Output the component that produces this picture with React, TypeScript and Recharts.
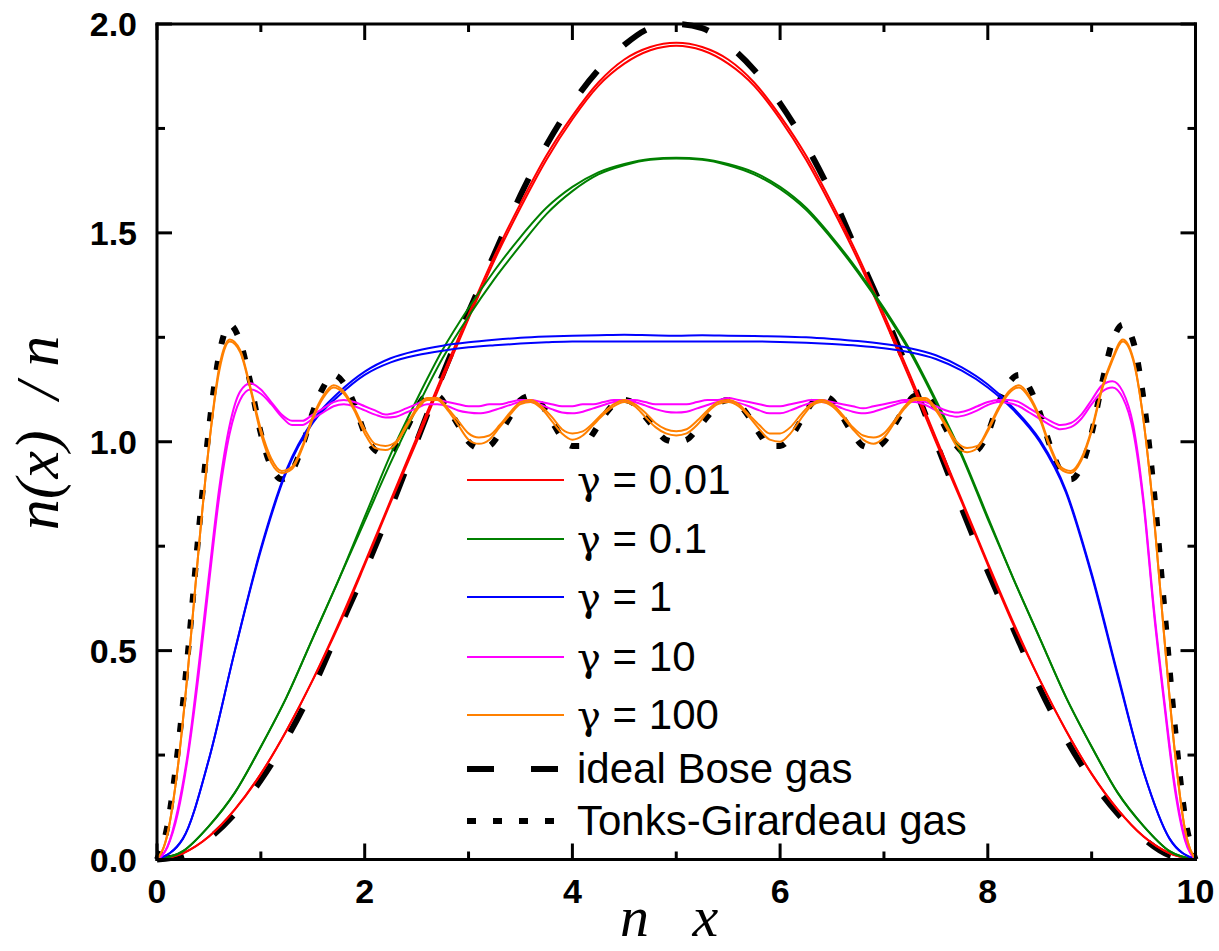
import { Legend, Line, LineChart, XAxis, YAxis } from 'recharts'

const W = 1219
const H = 951

// sample positions along n x
const xCoarse = [
  0, 0.25, 0.5, 0.75, 1, 1.25, 1.5, 1.75, 2, 2.25, 2.5, 2.75, 3, 3.25, 3.5, 3.75, 4, 4.25, 4.5, 4.75,
  5, 5.25, 5.5, 5.75, 6, 6.25, 6.5, 6.75, 7, 7.25, 7.5, 7.75, 8, 8.25, 8.5, 8.75, 9, 9.25, 9.5, 9.75, 10,
]
const xFine = [
  0, 0.1, 0.2, 0.3, 0.4, 0.5, 0.6, 0.7, 0.8, 0.9, 1, 1.1, 1.2, 1.3, 1.4, 1.5, 1.6, 1.7, 1.8, 1.9,
  2, 2.1, 2.2, 2.3, 2.4, 2.5, 2.6, 2.7, 2.8, 2.9, 3, 3.1, 3.2, 3.3, 3.4, 3.5, 3.6, 3.7, 3.8, 3.9,
  4, 4.1, 4.2, 4.3, 4.4, 4.5, 4.6, 4.7, 4.8, 4.9, 5, 5.1, 5.2, 5.3, 5.4, 5.5, 5.6, 5.7, 5.8, 5.9,
  6, 6.1, 6.2, 6.3, 6.4, 6.5, 6.6, 6.7, 6.8, 6.9, 7, 7.1, 7.2, 7.3, 7.4, 7.5, 7.6, 7.7, 7.8, 7.9,
  8, 8.1, 8.2, 8.3, 8.4, 8.5, 8.6, 8.7, 8.8, 8.9, 9, 9.1, 9.2, 9.3, 9.4, 9.5, 9.6, 9.7, 9.8, 9.9, 10,
]

// smooth profiles, read on the coarse grid
const idealBose = [
  0, 0.01, 0.05, 0.11, 0.19, 0.29, 0.41, 0.55, 0.69, 0.84, 1.0, 1.16, 1.31, 1.45, 1.59, 1.71, 1.81, 1.89, 1.95, 1.99,
  2.0, 1.99, 1.95, 1.89, 1.81, 1.71, 1.59, 1.45, 1.31, 1.16, 1.0, 0.84, 0.69, 0.55, 0.41, 0.29, 0.19, 0.11, 0.05, 0.01, 0,
]
const gamma001a = [
  0, 0.015, 0.055, 0.12, 0.205, 0.31, 0.43, 0.565, 0.71, 0.86, 1.01, 1.16, 1.305, 1.445, 1.57, 1.685, 1.78, 1.86, 1.915, 1.945,
  1.955, 1.945, 1.915, 1.86, 1.78, 1.685, 1.57, 1.445, 1.305, 1.16, 1.01, 0.86, 0.71, 0.565, 0.43, 0.31, 0.205, 0.12, 0.055, 0.015, 0,
]
const gamma001b = [
  0, 0.015, 0.055, 0.12, 0.205, 0.31, 0.43, 0.56, 0.705, 0.855, 1.0, 1.15, 1.295, 1.435, 1.56, 1.675, 1.772, 1.852, 1.905, 1.937,
  1.948, 1.937, 1.905, 1.852, 1.772, 1.675, 1.56, 1.435, 1.295, 1.15, 1.0, 0.855, 0.705, 0.56, 0.43, 0.31, 0.205, 0.12, 0.055, 0.015, 0,
]
const gamma01a = [
  0, 0.02, 0.08, 0.16, 0.27, 0.39, 0.53, 0.67, 0.82, 0.97, 1.1, 1.22, 1.32, 1.41, 1.49, 1.56, 1.61, 1.645, 1.665, 1.677,
  1.68, 1.677, 1.665, 1.645, 1.61, 1.56, 1.49, 1.41, 1.32, 1.22, 1.1, 0.97, 0.82, 0.67, 0.53, 0.39, 0.27, 0.16, 0.08, 0.02, 0,
]
const gamma01b = [
  0, 0.02, 0.08, 0.16, 0.27, 0.39, 0.53, 0.67, 0.81, 0.95, 1.08, 1.2, 1.3, 1.39, 1.47, 1.545, 1.6, 1.64, 1.662, 1.675,
  1.678, 1.675, 1.662, 1.64, 1.605, 1.555, 1.485, 1.405, 1.315, 1.215, 1.095, 0.965, 0.815, 0.67, 0.53, 0.39, 0.27, 0.16, 0.08, 0.02, 0,
]
const gamma1a = [
  0, 0.05, 0.24, 0.5, 0.74, 0.93, 1.045, 1.11, 1.16, 1.19, 1.207, 1.218, 1.226, 1.231, 1.235, 1.238, 1.24, 1.24, 1.24, 1.24,
  1.24, 1.24, 1.24, 1.24, 1.239, 1.237, 1.234, 1.23, 1.224, 1.214, 1.198, 1.17, 1.13, 1.075, 1.0, 0.88, 0.68, 0.44, 0.21, 0.05, 0,
]
const gamma1b = [
  0, 0.05, 0.24, 0.5, 0.745, 0.935, 1.05, 1.118, 1.168, 1.2, 1.218, 1.23, 1.238, 1.244, 1.249, 1.252, 1.254, 1.255, 1.256, 1.255,
  1.254, 1.255, 1.254, 1.253, 1.252, 1.25, 1.246, 1.241, 1.234, 1.224, 1.207, 1.178, 1.137, 1.08, 1.005, 0.885, 0.685, 0.445, 0.21, 0.05, 0,
]

// oscillating profiles, read on the fine grid
const gamma10a = [
  0, 0.03, 0.12, 0.26, 0.46, 0.68, 0.89, 1.04, 1.12, 1.14, 1.125, 1.095, 1.065, 1.05, 1.05, 1.065, 1.08, 1.095, 1.1, 1.095,
  1.085, 1.075, 1.065, 1.07, 1.08, 1.09, 1.1, 1.1, 1.095, 1.09, 1.085, 1.085, 1.09, 1.09, 1.095, 1.1, 1.1, 1.095, 1.09, 1.085,
  1.085, 1.09, 1.09, 1.095, 1.1, 1.1, 1.1, 1.095, 1.09, 1.09, 1.09,
  1.09, 1.095, 1.1, 1.1, 1.105, 1.1, 1.095, 1.09, 1.085, 1.085, 1.09, 1.095, 1.1, 1.1, 1.095, 1.09, 1.085, 1.08, 1.085, 1.09,
  1.095, 1.1, 1.1, 1.095, 1.085, 1.075, 1.07, 1.075, 1.085, 1.095, 1.1, 1.1, 1.095, 1.08, 1.065, 1.05, 1.04, 1.045, 1.065, 1.1,
  1.135, 1.145, 1.12, 1.04, 0.86, 0.6, 0.38, 0.18, 0.05, 0,
]
const gamma10b = [
  0, 0.03, 0.11, 0.25, 0.44, 0.66, 0.87, 1.02, 1.1, 1.125, 1.115, 1.09, 1.06, 1.04, 1.04, 1.055, 1.07, 1.085, 1.09, 1.085,
  1.075, 1.065, 1.058, 1.06, 1.07, 1.08, 1.09, 1.09, 1.085, 1.075, 1.07, 1.068, 1.072, 1.08, 1.088, 1.095, 1.095, 1.088, 1.078, 1.07,
  1.068, 1.072, 1.08, 1.088, 1.095, 1.098, 1.095, 1.087, 1.078, 1.072, 1.07,
  1.072, 1.08, 1.088, 1.095, 1.098, 1.093, 1.085, 1.075, 1.068, 1.068, 1.075, 1.085, 1.093, 1.095, 1.09, 1.08, 1.072, 1.068, 1.072, 1.08,
  1.088, 1.095, 1.095, 1.088, 1.075, 1.065, 1.06, 1.065, 1.075, 1.088, 1.095, 1.093, 1.085, 1.07, 1.055, 1.04, 1.03, 1.035, 1.055, 1.09,
  1.12, 1.13, 1.105, 1.025, 0.85, 0.59, 0.37, 0.17, 0.045, 0,
]
const gamma100a = [
  0, 0.06, 0.22, 0.46, 0.74, 0.99, 1.18, 1.245, 1.22, 1.13, 1.03, 0.96, 0.93, 0.94, 0.99, 1.06, 1.11, 1.135, 1.12, 1.08,
  1.03, 0.995, 0.99, 1.0, 1.04, 1.08, 1.105, 1.105, 1.08, 1.05, 1.02, 1.01, 1.015, 1.04, 1.07, 1.095, 1.1, 1.085, 1.06, 1.03,
  1.02, 1.025, 1.045, 1.07, 1.09, 1.1, 1.09, 1.07, 1.045, 1.03, 1.025,
  1.03, 1.05, 1.075, 1.095, 1.1, 1.09, 1.065, 1.04, 1.02, 1.02, 1.035, 1.065, 1.09, 1.1, 1.09, 1.065, 1.035, 1.015, 1.01, 1.02,
  1.05, 1.085, 1.105, 1.105, 1.08, 1.04, 1.0, 0.985, 0.99, 1.03, 1.08, 1.12, 1.135, 1.11, 1.06, 0.99, 0.94, 0.93, 0.96, 1.03,
  1.13, 1.2, 1.245, 1.2, 1.05, 0.82, 0.53, 0.26, 0.07, 0,
]
const gamma100b = [
  0, 0.06, 0.22, 0.46, 0.74, 0.99, 1.17, 1.24, 1.215, 1.125, 1.02, 0.95, 0.925, 0.935, 0.985, 1.055, 1.105, 1.13, 1.115, 1.075,
  1.02, 0.985, 0.98, 0.995, 1.035, 1.075, 1.1, 1.1, 1.075, 1.04, 1.005, 0.995, 1.005, 1.035, 1.065, 1.09, 1.095, 1.08, 1.05, 1.02,
  1.005, 1.015, 1.04, 1.065, 1.085, 1.095, 1.085, 1.06, 1.035, 1.02, 1.015,
  1.02, 1.04, 1.07, 1.09, 1.095, 1.085, 1.06, 1.03, 1.005, 1.0, 1.02, 1.055, 1.085, 1.095, 1.085, 1.06, 1.03, 1.005, 0.995, 1.01,
  1.045, 1.08, 1.1, 1.1, 1.075, 1.035, 0.99, 0.975, 0.985, 1.025, 1.075, 1.115, 1.13, 1.105, 1.055, 0.985, 0.935, 0.925, 0.955, 1.025,
  1.125, 1.195, 1.24, 1.195, 1.05, 0.82, 0.53, 0.26, 0.07, 0,
]
const tonksGirardeau = [
  0, 0.08, 0.26, 0.5, 0.78, 1.03, 1.21, 1.28, 1.24, 1.14, 1.02, 0.94, 0.91, 0.93, 0.99, 1.07, 1.13, 1.16, 1.14, 1.09,
  1.02, 0.98, 0.97, 0.99, 1.03, 1.08, 1.11, 1.11, 1.08, 1.04, 1.0, 0.985, 0.99, 1.02, 1.06, 1.1, 1.11, 1.09, 1.05, 1.01,
  0.99, 0.99, 1.02, 1.06, 1.09, 1.1, 1.09, 1.06, 1.03, 1.005, 1.0,
  1.005, 1.03, 1.06, 1.09, 1.1, 1.09, 1.06, 1.02, 0.99, 0.99, 1.01, 1.05, 1.09, 1.11, 1.1, 1.06, 1.02, 0.99, 0.985, 1.0,
  1.04, 1.08, 1.11, 1.11, 1.08, 1.03, 0.99, 0.97, 0.98, 1.02, 1.09, 1.14, 1.16, 1.13, 1.07, 0.99, 0.93, 0.91, 0.94, 1.02,
  1.14, 1.24, 1.28, 1.24, 1.1, 0.88, 0.6, 0.32, 0.1, 0,
]

const xTicks = [0, 1, 2, 3, 4, 5, 6, 7, 8, 9, 10]
const yTicks = [0, 0.25, 0.5, 0.75, 1, 1.25, 1.5, 1.75, 2]

const legendRows = [
  { label: '0.01', color: '#ff0000' },
  { label: '0.1', color: '#008000' },
  { label: '1', color: '#0000ff' },
  { label: '10', color: '#ff00ff' },
  { label: '100', color: '#ff8000' },
]

const toPoints = (xs: number[], ys: number[]) => xs.map((x, i) => ({ x, y: ys[i] }))

const tickFont = {
  fontFamily: '"Liberation Sans", Arial, sans-serif',
  fontWeight: 700,
  fontSize: 34,
  fill: '#000',
}
const mathFont = {
  fontFamily: '"Liberation Serif", "Times New Roman", serif',
  fontStyle: 'italic' as const,
  fontSize: 62,
  fill: '#000',
  whiteSpace: 'pre' as const,
}

const isMajorY = (v: number) => Math.abs(v * 2 - Math.round(v * 2)) < 1e-6

function BottomTick({ x, y, payload }: any) {
  const v = payload.value as number
  const major = v % 2 === 0
  return (
    <g>
      <line x1={x} y1={y} x2={x} y2={y - (major ? 16 : 8)} stroke="#000" strokeWidth={3} />
      {major && (
        <text x={x} y={y + 43} textAnchor="middle" style={tickFont}>
          {v}
        </text>
      )}
    </g>
  )
}

function TopTick({ x, y, payload }: any) {
  const major = (payload.value as number) % 2 === 0
  return <line x1={x} y1={y} x2={x} y2={y + (major ? 16 : 8)} stroke="#000" strokeWidth={3} />
}

function LeftTick({ x, y, payload }: any) {
  const v = payload.value as number
  const major = isMajorY(v)
  return (
    <g>
      <line x1={x} y1={y} x2={x + (major ? 15 : 8)} y2={y} stroke="#000" strokeWidth={3} />
      {major && (
        <text x={x - 20} y={y + 12} textAnchor="end" style={tickFont}>
          {v.toFixed(1)}
        </text>
      )}
    </g>
  )
}

function RightTick({ x, y, payload }: any) {
  const major = isMajorY(payload.value as number)
  return <line x1={x} y1={y} x2={x - (major ? 15 : 8)} y2={y} stroke="#000" strokeWidth={3} />
}

function LegendBox() {
  const rowY = [30, 89, 147, 207, 265, 319, 371]
  const textStyle = { fontFamily: '"Liberation Sans", Arial, sans-serif', fontSize: 42, fill: '#000' }
  return (
    <svg width={560} height={400}>
      {legendRows.map((r, i) => (
        <g key={r.label}>
          <line x1={0} y1={rowY[i]} x2={97} y2={rowY[i]} stroke={r.color} strokeWidth={2} />
          <text x={110} y={rowY[i] + 14} style={textStyle}>
            <tspan style={{ fontFamily: '"DejaVu Serif", serif', fontSize: 40 }}>γ</tspan> = {r.label}
          </text>
        </g>
      ))}
      <line x1={0} y1={rowY[5]} x2={97} y2={rowY[5]} stroke="#000" strokeWidth={6} strokeDasharray="27 37" />
      <text x={110} y={rowY[5] + 14} style={textStyle}>
        ideal Bose gas
      </text>
      <line x1={0} y1={rowY[6]} x2={97} y2={rowY[6]} stroke="#000" strokeWidth={6} strokeDasharray="9 17" />
      <text x={110} y={rowY[6] + 14} style={textStyle}>
        Tonks-Girardeau gas
      </text>
    </svg>
  )
}

const axisLine = { stroke: '#000', strokeWidth: 3, strokeLinecap: 'square' as const }

export default function App() {
  return (
    <div style={{ position: 'fixed', left: 0, top: 0, width: W, height: H, background: '#fff' }}>
      <LineChart width={W} height={H} margin={{ top: 23, right: 22.5, bottom: 90.5, left: 156 }}>
        <XAxis
          dataKey="x"
          type="number"
          domain={[0, 10]}
          ticks={xTicks}
          interval={0}
          height={1}
          tickSize={0}
          tickMargin={0}
          tickLine={false}
          axisLine={axisLine}
          tick={(p: any) => <BottomTick {...p} />}
          label={{
            content: () => (
              <text x={669} y={936} textAnchor="middle" style={{ ...mathFont, fontSize: 58 }}>
                {'n   x'}
              </text>
            ),
          }}
        />
        <XAxis
          xAxisId="top"
          orientation="top"
          dataKey="x"
          type="number"
          domain={[0, 10]}
          ticks={xTicks}
          interval={0}
          height={1}
          tickSize={0}
          tickMargin={0}
          tickLine={false}
          axisLine={axisLine}
          tick={(p: any) => <TopTick {...p} />}
        />
        <YAxis
          type="number"
          domain={[0, 2]}
          ticks={yTicks}
          interval={0}
          width={1}
          tickSize={0}
          tickMargin={0}
          tickLine={false}
          axisLine={axisLine}
          tick={(p: any) => <LeftTick {...p} />}
          label={{
            content: () => (
              <text x={58} y={433} textAnchor="middle" transform="rotate(-90 58 433)" style={mathFont}>
                {'n(x)  / n'}
              </text>
            ),
          }}
        />
        <YAxis
          yAxisId="right"
          orientation="right"
          type="number"
          domain={[0, 2]}
          ticks={yTicks}
          interval={0}
          width={1}
          tickSize={0}
          tickMargin={0}
          tickLine={false}
          axisLine={axisLine}
          tick={(p: any) => <RightTick {...p} />}
        />
        <Legend
          layout="vertical"
          align="center"
          verticalAlign="middle"
          wrapperStyle={{ left: 467, top: 450, width: 560, height: 400 }}
          content={() => <LegendBox />}
        />

        {/* keeps the mirrored frame axes bound to data */}
        <Line
          xAxisId="top"
          yAxisId="right"
          data={toPoints(xCoarse, idealBose)}
          dataKey="y"
          stroke="none"
          dot={false}
          legendType="none"
          isAnimationActive={false}
        />

        <Line data={toPoints(xCoarse, idealBose)} dataKey="y" type="monotone" stroke="#000" strokeWidth={6} strokeDasharray="27 37" dot={false} isAnimationActive={false} />
        <Line data={toPoints(xFine, tonksGirardeau)} dataKey="y" type="monotone" stroke="#000" strokeWidth={6} strokeDasharray="9 17" dot={false} isAnimationActive={false} />

        <Line data={toPoints(xCoarse, gamma001a)} dataKey="y" type="monotone" stroke="#ff0000" strokeWidth={2} dot={false} isAnimationActive={false} />
        <Line data={toPoints(xCoarse, gamma001b)} dataKey="y" type="monotone" stroke="#ff0000" strokeWidth={2} dot={false} isAnimationActive={false} />
        <Line data={toPoints(xCoarse, gamma01a)} dataKey="y" type="monotone" stroke="#008000" strokeWidth={2} dot={false} isAnimationActive={false} />
        <Line data={toPoints(xCoarse, gamma01b)} dataKey="y" type="monotone" stroke="#008000" strokeWidth={2} dot={false} isAnimationActive={false} />
        <Line data={toPoints(xCoarse, gamma1a)} dataKey="y" type="monotone" stroke="#0000ff" strokeWidth={2} dot={false} isAnimationActive={false} />
        <Line data={toPoints(xCoarse, gamma1b)} dataKey="y" type="monotone" stroke="#0000ff" strokeWidth={2} dot={false} isAnimationActive={false} />
        <Line data={toPoints(xFine, gamma10a)} dataKey="y" type="monotone" stroke="#ff00ff" strokeWidth={2} dot={false} isAnimationActive={false} />
        <Line data={toPoints(xFine, gamma10b)} dataKey="y" type="monotone" stroke="#ff00ff" strokeWidth={2} dot={false} isAnimationActive={false} />
        <Line data={toPoints(xFine, gamma100a)} dataKey="y" type="monotone" stroke="#ff8000" strokeWidth={2} dot={false} isAnimationActive={false} />
        <Line data={toPoints(xFine, gamma100b)} dataKey="y" type="monotone" stroke="#ff8000" strokeWidth={2} dot={false} isAnimationActive={false} />
      </LineChart>
    </div>
  )
}
